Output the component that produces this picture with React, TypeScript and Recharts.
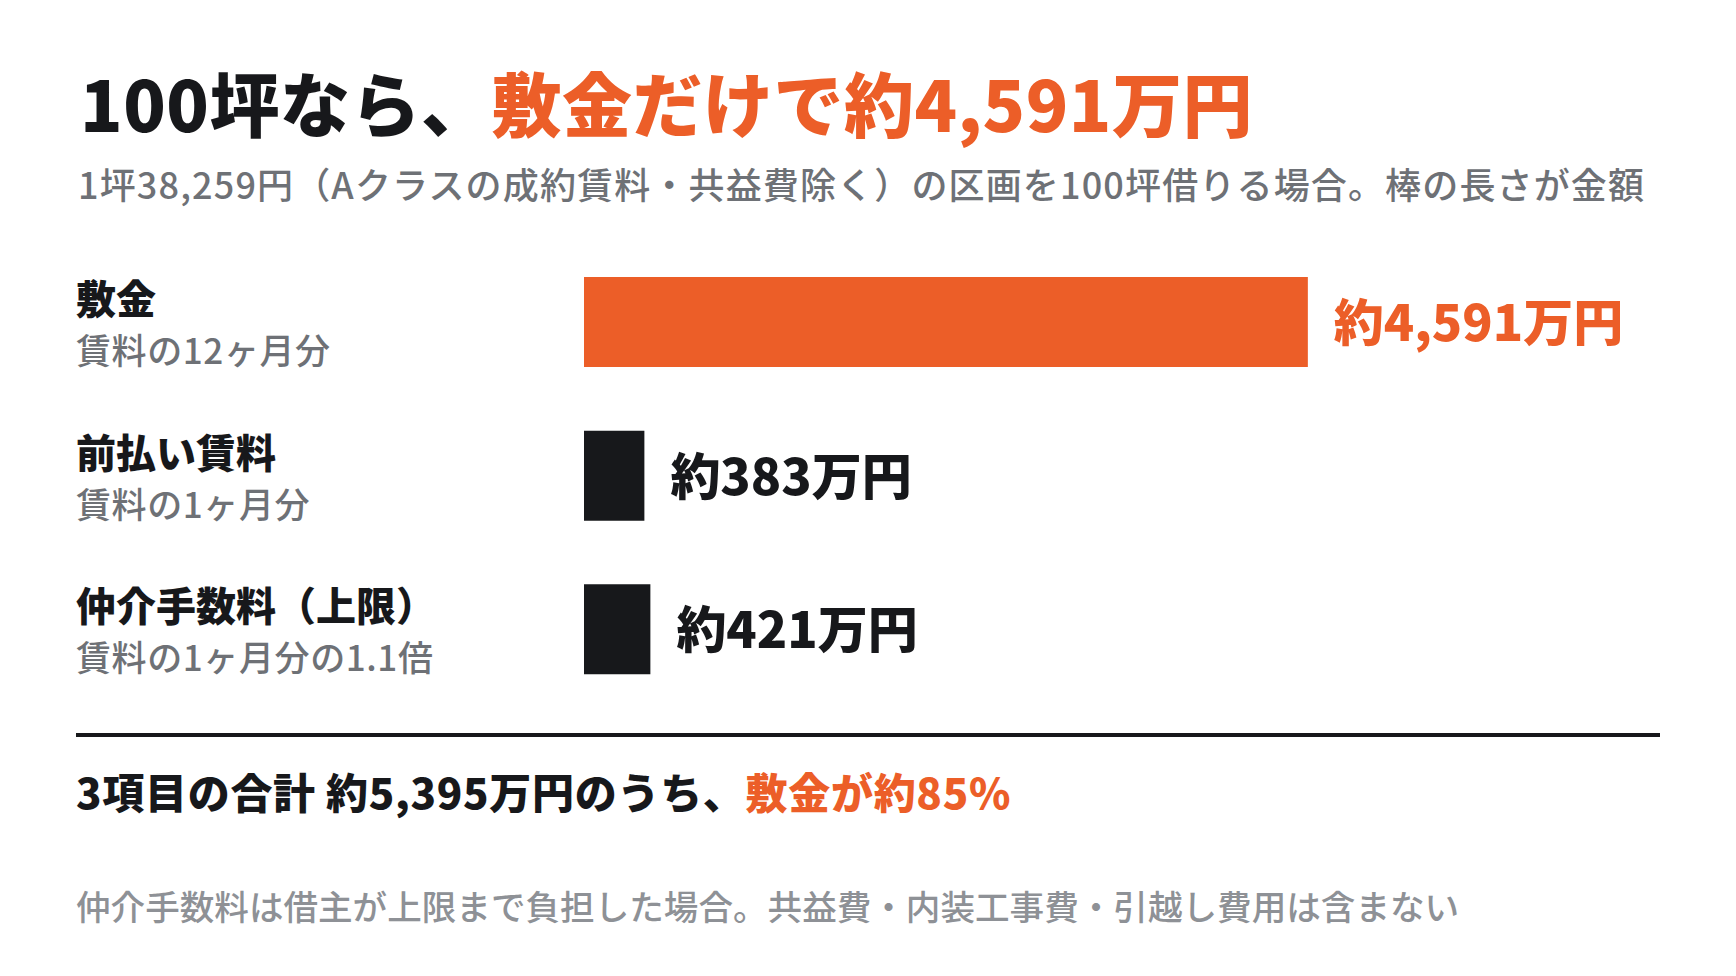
import { BarChart, Bar, XAxis, YAxis, LabelList, Cell } from 'recharts';

const categories = ['敷金', '前払い賃料', '仲介手数料（上限）'];
const notes = ['賃料の12ヶ月分', '賃料の1ヶ月分', '賃料の1ヶ月分の1.1倍'];
const amounts = [4591, 383, 421]; // 万円
const unitRent = 38259; // 円/坪
const tsubo = 100;

const ORANGE = '#EC5E28';
const BLACK = '#17181B';
const GRAY = '#6E7176';
const LIGHT_GRAY = '#8E9196';
const FONT = "'Noto Sans CJK JP', 'Noto Sans', sans-serif";

const data = categories.map((name, i) => ({ name, note: notes[i], value: amounts[i] }));
const total = amounts.reduce((a, b) => a + b, 0);
const share = Math.round((amounts[0] / total) * 100);
const yen = (v: number) => `約${v.toLocaleString('ja-JP')}万円`;

function CategoryTick(props: any) {
  const { y, payload } = props;
  const i = categories.indexOf(payload.value);
  return (
    <g>
      <text x={76} y={y - 8} fontFamily={FONT} fontSize={40} fontWeight={900} fill={BLACK}>
        {payload.value}
      </text>
      <text x={76} y={y + 42} fontFamily={FONT} fontSize={35} fontWeight={500} fill={GRAY} letterSpacing={0.6}>
        {notes[i]}
      </text>
    </g>
  );
}

function ValueLabel(props: any) {
  const { x, y, width, height, value, index } = props;
  return (
    <text
      x={x + width + 26}
      y={y + height / 2 + 19}
      fontFamily={FONT}
      fontSize={50}
      fontWeight={900}
      fill={index === 0 ? ORANGE : BLACK}
    >
      {yen(value)}
    </text>
  );
}

export default function App() {
  return (
    <div style={{ position: 'absolute', left: 0, top: 0, width: 1736, height: 976, background: '#fff' }}>
      <BarChart
        width={1736}
        height={976}
        data={data}
        layout="vertical"
        margin={{ top: 245, right: 206, bottom: 270, left: 0 }}
      >
        <XAxis type="number" domain={[0, 6000]} hide />
        <YAxis
          type="category"
          dataKey="name"
          width={584}
          axisLine={false}
          tickLine={false}
          tick={<CategoryTick />}
        />
        <Bar dataKey="value" barSize={90} isAnimationActive={false}>
          {data.map((_, i) => (
            <Cell key={i} fill={i === 0 ? ORANGE : BLACK} />
          ))}
          <LabelList dataKey="value" content={<ValueLabel />} />
        </Bar>
      </BarChart>

      <svg
        width={1736}
        height={976}
        style={{ position: 'absolute', left: 0, top: 0, pointerEvents: 'none' }}
      >
        <text x={80} y={132} fontFamily={FONT} fontSize={70} fontWeight={900} fill={BLACK} letterSpacing={0.5}>
          {`${tsubo}坪なら、`}
          <tspan fill={ORANGE}>{`敷金だけで${yen(amounts[0])}`}</tspan>
        </text>
        <text x={78} y={199} fontFamily={FONT} fontSize={36} fontWeight={500} fill={GRAY} letterSpacing={1.15}>
          {`1坪${unitRent.toLocaleString('ja-JP')}円（Aクラスの成約賃料・共益費除く）の区画を${tsubo}坪借りる場合。棒の長さが金額`}
        </text>
        <rect x={76} y={733} width={1584} height={4} fill={BLACK} />
        <text x={76} y={809} fontFamily={FONT} fontSize={42} fontWeight={900} fill={BLACK} letterSpacing={0.7}>
          {`3項目の合計 ${yen(total)}のうち、`}
          <tspan fill={ORANGE}>{`敷金が約${share}%`}</tspan>
        </text>
        <text x={76} y={920} fontFamily={FONT} fontSize={34.6} fontWeight={500} fill={LIGHT_GRAY}>
          仲介手数料は借主が上限まで負担した場合。共益費・内装工事費・引越し費用は含まない
        </text>
      </svg>
    </div>
  );
}
